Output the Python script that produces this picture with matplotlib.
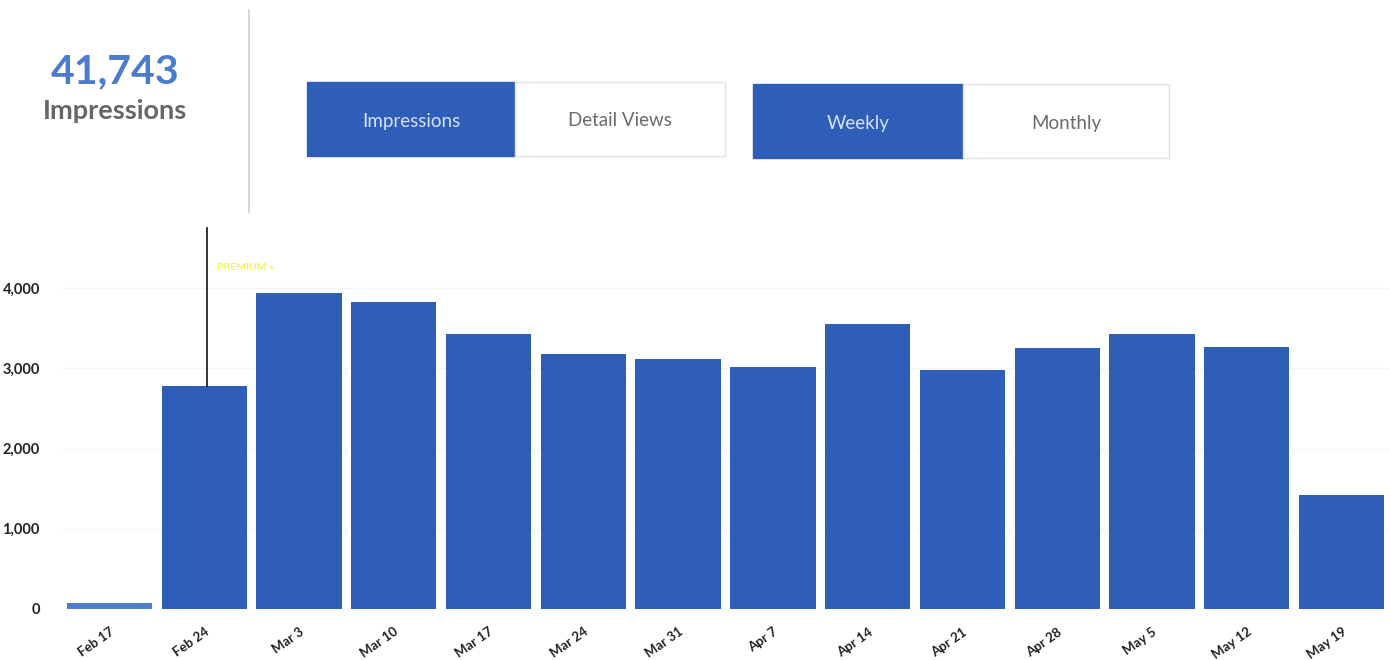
import matplotlib
matplotlib.use("Agg")
import matplotlib.pyplot as plt
from matplotlib.patches import Rectangle
from matplotlib.ticker import FuncFormatter

weeks = ["Feb 17", "Feb 24", "Mar 3", "Mar 10", "Mar 17", "Mar 24", "Mar 31",
         "Apr 7", "Apr 14", "Apr 21", "Apr 28", "May 5", "May 12", "May 19"]
impressions = [80, 2780, 3940, 3830, 3430, 3180, 3120,
               3020, 3550, 2980, 3250, 3430, 3265, 1420]
y_ticks = [0, 1000, 2000, 3000, 4000]
total_label = "41,743"
metric_buttons = ["Impressions", "Detail Views"]
period_buttons = ["Weekly", "Monthly"]

plt.rcParams['font.family'] = ['Lato', 'DejaVu Sans']

BLUE = "#2f5eb8"
fig = plt.figure(figsize=(13.9, 6.6), dpi=100)
W, H = 1390, 660

def fx(px):
    return px / W

def fy(py):
    return 1 - py / H

# Header: total
fig.text(fx(115), fy(72), total_label, color="#4a7bd0", fontsize=29.5,
         fontweight="bold", ha="center", va="center")
fig.text(fx(115), fy(111), "Impressions", color="#666666", fontsize=19.5,
         fontweight="bold", ha="center", va="center")

# separator line
fig.add_artist(plt.Line2D([fx(249), fx(249)], [fy(10), fy(212)],
                          color="#d0d0d0", lw=1.2))

# Buttons
def button(x0, x1, y0, y1, label, active):
    face = BLUE if active else "white"
    edge = BLUE if active else "#e2e2e2"
    fig.add_artist(Rectangle((fx(x0), fy(y1)), fx(x1 - x0), (y1 - y0) / H,
                             facecolor=face, edgecolor=edge, lw=1,
                             transform=fig.transFigure))
    fig.text(fx((x0 + x1) / 2), fy((y0 + y1) / 2 + 2), label,
             color="#d6e2f5" if active else "#6a6a6a", fontsize=13.5,
             ha="center", va="center")

button(307, 515, 82, 156, metric_buttons[0], True)
button(515, 725, 82, 156, metric_buttons[1], False)
button(753, 963, 84, 158, period_buttons[0], True)
button(963, 1169, 84, 158, period_buttons[1], False)

# Bar chart
ax = fig.add_axes([fx(62), 1 - 609 / H, fx(1389 - 62), (609 - 228) / H])
x = list(range(len(weeks)))
ax.bar(x, impressions, width=0.9, color=BLUE, zorder=2)
ax.bar([0], [impressions[0]], width=0.9, color="#4f7ecb", zorder=3)
ax.set_xlim(-0.5, len(weeks) - 0.5)
ax.set_ylim(0, 4748)
ax.set_yticks(y_ticks)
ax.yaxis.set_major_formatter(FuncFormatter(lambda v, p: f"{int(v):,}"))
ax.grid(axis="y", color="#f5f5f5", lw=1, zorder=0)
for s in ax.spines.values():
    s.set_visible(False)
ax.tick_params(axis="both", length=0)
ax.tick_params(axis="y", pad=16, labelsize=10.5, labelcolor="#222222")
ax.set_xticks(x)
ax.set_xticklabels(weeks, rotation=35, ha="right", rotation_mode="anchor",
                   fontsize=9.5, color="#222222", fontweight="bold")
ax.tick_params(axis="x", pad=12)
for lab in ax.get_yticklabels():
    lab.set_fontweight("bold")

# premium marker
ax.plot([1.03, 1.03], [impressions[1], 4748], color="#111111", lw=1.2,
        zorder=4, clip_on=False)
ax.text(1.13, 4260, "PREMIUM »", color="#f2f25a", fontsize=7.5,
        ha="left", va="center", fontweight="bold")

fig.savefig("out.png", dpi=100, facecolor="white")
